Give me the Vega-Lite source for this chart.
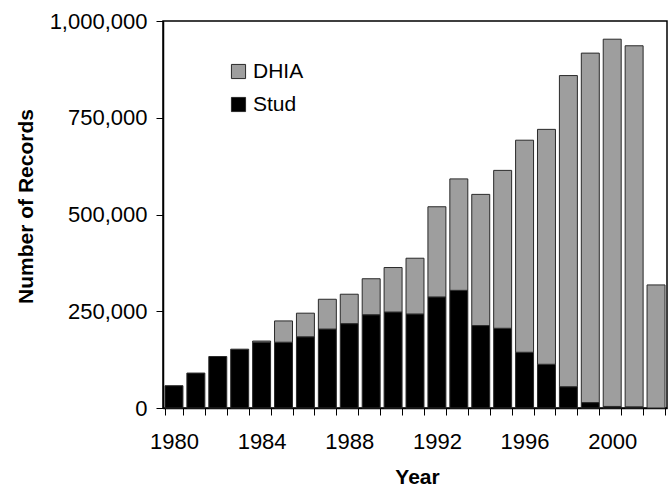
{
  "$schema": "https://vega.github.io/schema/vega-lite/v6.json",
  "width": 504,
  "height": 387,
  "autosize": {"type": "none"},
  "padding": {"left": 163, "top": 21, "right": 1, "bottom": 78},
  "background": "white",
  "config": {
    "font": "Liberation Sans",
    "view": {"stroke": "black", "strokeWidth": 1.5},
    "axis": {"grid": false, "domainColor": "black", "tickColor": "black", "labelColor": "black", "titleColor": "black"}
  },
  "data": {
    "values": [
      {"year": 1980, "type": "Stud", "n": 57600},
      {"year": 1981, "type": "Stud", "n": 90300},
      {"year": 1982, "type": "Stud", "n": 133000},
      {"year": 1983, "type": "Stud", "n": 152000},
      {"year": 1984, "type": "Stud", "n": 170000},
      {"year": 1984, "type": "DHIA", "n": 3000},
      {"year": 1985, "type": "Stud", "n": 170000},
      {"year": 1985, "type": "DHIA", "n": 55000},
      {"year": 1986, "type": "Stud", "n": 184000},
      {"year": 1986, "type": "DHIA", "n": 61000},
      {"year": 1987, "type": "Stud", "n": 204000},
      {"year": 1987, "type": "DHIA", "n": 77000},
      {"year": 1988, "type": "Stud", "n": 218000},
      {"year": 1988, "type": "DHIA", "n": 76000},
      {"year": 1989, "type": "Stud", "n": 241000},
      {"year": 1989, "type": "DHIA", "n": 93000},
      {"year": 1990, "type": "Stud", "n": 248000},
      {"year": 1990, "type": "DHIA", "n": 115000},
      {"year": 1991, "type": "Stud", "n": 243000},
      {"year": 1991, "type": "DHIA", "n": 144000},
      {"year": 1992, "type": "Stud", "n": 287000},
      {"year": 1992, "type": "DHIA", "n": 233000},
      {"year": 1993, "type": "Stud", "n": 304000},
      {"year": 1993, "type": "DHIA", "n": 288000},
      {"year": 1994, "type": "Stud", "n": 213000},
      {"year": 1994, "type": "DHIA", "n": 339000},
      {"year": 1995, "type": "Stud", "n": 206000},
      {"year": 1995, "type": "DHIA", "n": 408000},
      {"year": 1996, "type": "Stud", "n": 144000},
      {"year": 1996, "type": "DHIA", "n": 548000},
      {"year": 1997, "type": "Stud", "n": 113000},
      {"year": 1997, "type": "DHIA", "n": 607000},
      {"year": 1998, "type": "Stud", "n": 55000},
      {"year": 1998, "type": "DHIA", "n": 804000},
      {"year": 1999, "type": "Stud", "n": 14000},
      {"year": 1999, "type": "DHIA", "n": 903000},
      {"year": 2000, "type": "Stud", "n": 4000},
      {"year": 2000, "type": "DHIA", "n": 949000},
      {"year": 2001, "type": "Stud", "n": 3000},
      {"year": 2001, "type": "DHIA", "n": 933000},
      {"year": 2002, "type": "DHIA", "n": 318000}
    ]
  },
  "mark": {"type": "bar", "stroke": "#2a2a2a", "strokeWidth": 1},
  "encoding": {
    "x": {
      "field": "year",
      "type": "ordinal",
      "scale": {"paddingInner": 0.18, "paddingOuter": 0.09},
      "axis": {
        "title": "Year",
        "titleFontSize": 21,
        "titleFontWeight": "bold",
        "titleX": 254,
        "titleY": 75,
        "titleBaseline": "alphabetic",
        "titleAlign": "center",
        "labelFontSize": 22,
        "labelAngle": 0,
        "labelPadding": 16,
        "tickSize": 7,
        "tickBand": "extent",
        "domainWidth": 1.5,
        "labelExpr": "datum.value % 4 === 0 ? datum.label : ''"
      }
    },
    "y": {
      "field": "n",
      "type": "quantitative",
      "stack": "zero",
      "scale": {"domain": [0, 1000000], "nice": false},
      "axis": {
        "title": "Number of Records",
        "titleFontSize": 21,
        "titleFontWeight": "bold",
        "titleX": -131,
        "titleY": 185,
        "titleAngle": -90,
        "titleBaseline": "alphabetic",
        "titleAlign": "center",
        "values": [0, 250000, 500000, 750000, 1000000],
        "format": ",.0f",
        "labelFontSize": 22,
        "labelPadding": 9,
        "tickSize": 7,
        "domainWidth": 1.5
      }
    },
    "color": {
      "field": "type",
      "type": "nominal",
      "scale": {"domain": ["DHIA", "Stud"], "range": ["#9e9e9e", "#000000"]},
      "legend": {
        "title": null,
        "orient": "none",
        "legendX": 65,
        "legendY": 40,
        "padding": 0,
        "symbolType": "square",
        "symbolSize": 200,
        "symbolStrokeColor": "#2a2a2a",
        "symbolStrokeWidth": 1,
        "labelFontSize": 21,
        "labelColor": "black",
        "labelOffset": 4,
        "rowPadding": 11
      }
    },
    "order": {"field": "type", "sort": "descending"}
  }
}
